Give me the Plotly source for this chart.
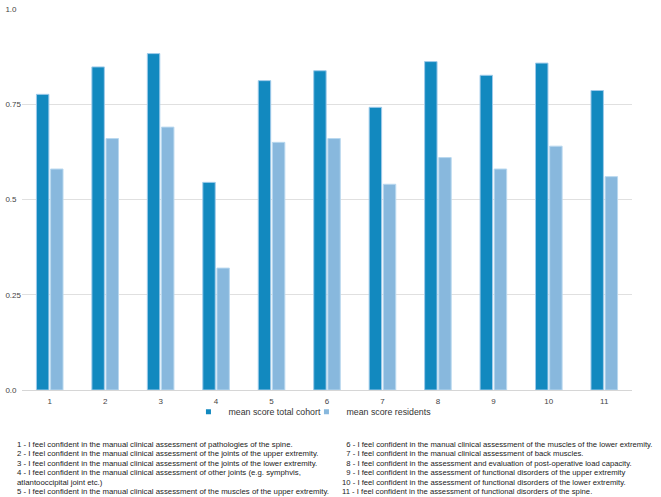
import plotly.graph_objects as go

categories = ["1", "2", "3", "4", "5", "6", "7", "8", "9", "10", "11"]
total_cohort = [0.776, 0.848, 0.883, 0.545, 0.812, 0.838, 0.742, 0.862, 0.826, 0.858, 0.786]
residents = [0.58, 0.66, 0.69, 0.32, 0.65, 0.66, 0.54, 0.61, 0.58, 0.64, 0.56]
series_names = ["mean score total cohort", "mean score residents"]
y_tickvals = [0, 0.25, 0.5, 0.75, 1.0]
y_ticktext = ["0.0\u00a0\u00a0", "0.25", "0.5\u00a0\u00a0", "0.75", "1.0\u00a0\u00a0"]

notes_left = [
    "1 - I feel confident in the manual clinical assessment of pathologies of the spine.",
    "2 - I feel confident in the manual clinical assessment of the joints of the upper extremity.",
    "3 - I feel confident in the manual clinical assessment of the joints of the lower extremity.",
    "4 - I feel confident in the manual clinical assessment of other joints (e.g. symphvis,",
    "atlantooccipital joint etc.)",
    "5 - I feel confident in the manual clinical assessment of the muscles of the upper extremity.",
]
notes_right = [
    "\u00a0\u00a06 - I feel confident in the manual clinical assessment of the muscles of the lower extremity.",
    "\u00a0\u00a07 - I feel confident in the manual clinical assessment of back muscles.",
    "\u00a0\u00a08 - I feel confident in the assessment and evaluation of post-operative load capacity.",
    "\u00a0\u00a09 - I feel confident in the assessment of functional disorders of the upper extremity",
    "10 - I feel confident in the assessment of functional disorders of the lower extremity.",
    "11 - I feel confident in the assessment of functional disorders of the spine.",
]

FONT = "Liberation Sans, Arial, sans-serif"
COL_DARK = "#1289BF"
COL_LIGHT = "#88B8DD"

W, H = 661, 497
ML, MR, MT, MB = 20, 29, 5, 107
PLOT_H = H - MT - MB
PLOT_W = W - ML - MR


def py(px):
    """page pixel y -> paper y"""
    return (H - MB - px) / PLOT_H


def px_x(px):
    return (px - ML) / PLOT_W


fig = go.Figure()
fig.add_trace(go.Bar(
    x=categories, y=total_cohort, name=series_names[0], showlegend=False,
    marker=dict(color=COL_DARK, line=dict(color="#9FCBEA", width=1)),
))
fig.add_trace(go.Bar(
    x=categories, y=residents, name=series_names[1], showlegend=False,
    marker=dict(color=COL_LIGHT, line=dict(color="#B9D8EF", width=1)),
))
# legend entries with small square markers
for name, col in zip(series_names, [COL_DARK, COL_LIGHT]):
    fig.add_trace(go.Scatter(
        x=[None], y=[None], mode="markers", name=name,
        marker=dict(symbol="square", size=5, color=col),
    ))
# blank spacer entry so the fixed-width legend does not clip the last label
fig.add_trace(go.Scatter(
    x=[None], y=[None], mode="markers", name="\u00a0",
    marker=dict(symbol="square", size=5, color="rgba(0,0,0,0)"),
    hoverinfo="skip",
))

fig.update_layout(
    width=W, height=H,
    margin=dict(l=ML, r=MR, t=MT, b=MB),
    plot_bgcolor="white", paper_bgcolor="white",
    barmode="group", bargap=0.49, bargroupgap=0.12,
    font=dict(family=FONT, size=8, color="#444"),
    showlegend=True,
    legend=dict(
        orientation="h", yanchor="middle", xanchor="left",
        x=px_x(187), y=py(412),
        font=dict(family=FONT, size=8.8, color="#333"),
        itemwidth=30, entrywidth=73, entrywidthmode="pixels",
        bgcolor="rgba(0,0,0,0)", itemclick=False, itemdoubleclick=False,
    ),
    xaxis=dict(
        type="category", showgrid=False, ticks="outside", ticklen=3,
        tickcolor="rgba(0,0,0,0)", showline=True,
        linecolor="#D6D6D6", linewidth=1,
        tickfont=dict(family=FONT, size=8, color="#444"),
    ),
    yaxis=dict(
        range=[0, 1.0], tickvals=y_tickvals, ticktext=y_ticktext,
        showgrid=True, gridcolor="#E0E0E0", gridwidth=1, zeroline=False,
        ticks="", showline=False,
        tickfont=dict(family=FONT, size=8, color="#444"),
    ),
)

for i, line in enumerate(notes_left):
    fig.add_annotation(
        text=line, xref="paper", yref="paper",
        x=px_x(13), y=py(445 + 9.6 * i), xanchor="left", yanchor="middle",
        align="left", showarrow=False,
        font=dict(family=FONT, size=7.8, color="#222"),
    )
for i, line in enumerate(notes_right):
    fig.add_annotation(
        text=line, xref="paper", yref="paper",
        x=px_x(339), y=py(445 + 9.6 * i), xanchor="left", yanchor="middle",
        align="left", showarrow=False,
        font=dict(family=FONT, size=7.7, color="#222"),
    )

fig.write_html("out.html", config={"displayModeBar": False},
               post_script="document.body.style.margin='0';")
